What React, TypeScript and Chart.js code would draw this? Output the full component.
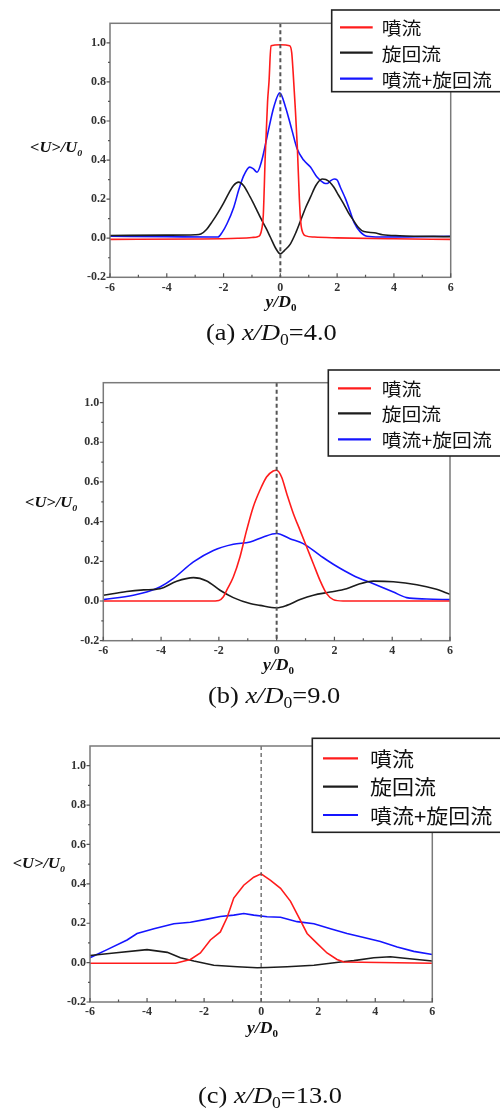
import React, { useEffect, useRef } from "react";
import { Chart, registerables } from "chart.js";

Chart.register(...registerables);

// ---------- shared labels / ticks ----------
const seriesLabels = ["噴流", "旋回流", "噴流+旋回流"];
const seriesColors = ["#ff1c1c", "#1c1c1c", "#1515ff"];
const xTickValues = [-6, -4, -2, 0, 2, 4, 6];
const yTickValues = [-0.2, 0, 0.2, 0.4, 0.6, 0.8, 1.0];
const xMinorValues = [-5, -3, -1, 1, 3, 5];
const yMinorValues = [-0.1, 0.1, 0.3, 0.5, 0.7, 0.9];
const panelLetters = ["a", "b", "c"];
const panelPositions = ["4.0", "9.0", "13.0"];

// ---------- panel (a) x/D0 = 4.0 ----------
const aJetX = [-6, -3, -1.5, -1, -0.8, -0.72, -0.65, -0.6, -0.53, -0.45, -0.4, -0.33, 0, 0.33, 0.4, 0.45, 0.52, 0.6, 0.67, 0.72, 0.8, 0.9, 1.2, 2, 4, 6];
const aJetY = [-0.006, -0.004, 0, 0.004, 0.008, 0.015, 0.05, 0.12, 0.43, 0.7, 0.8, 0.985, 0.99, 0.985, 0.95, 0.85, 0.68, 0.46, 0.2, 0.08, 0.025, 0.012, 0.006, 0.002, -0.003, -0.006];
const aSwirlX = [-6, -4, -3, -2.8, -2.6, -2.4, -2.2, -2, -1.8, -1.65, -1.47, -1.3, -1.06, -0.85, -0.7, -0.5, -0.35, -0.15, 0, 0.15, 0.35, 0.55, 0.7, 0.9, 1.06, 1.25, 1.47, 1.6, 1.75, 1.88, 2.05, 2.23, 2.4, 2.58, 2.75, 2.94, 3.3, 3.6, 4.2, 6];
const aSwirlY = [0.014, 0.016, 0.018, 0.022, 0.045, 0.085, 0.13, 0.18, 0.235, 0.27, 0.287, 0.27, 0.21, 0.15, 0.105, 0.05, 0.005, -0.055, -0.08, -0.062, -0.03, 0.03, 0.085, 0.16, 0.21, 0.27, 0.303, 0.3, 0.285, 0.262, 0.22, 0.176, 0.13, 0.09, 0.055, 0.034, 0.028, 0.018, 0.013, 0.008];
const aBothX = [-6, -4, -2.5, -2.2, -2.05, -1.88, -1.64, -1.47, -1.29, -1.08, -0.95, -0.82, -0.65, -0.47, -0.23, -0.02, 0.18, 0.41, 0.59, 0.82, 1.06, 1.29, 1.53, 1.65, 1.75, 1.9, 2.0, 2.11, 2.3, 2.45, 2.6, 2.8, 3.05, 3.5, 4.5, 6];
const aBothY = [0.01, 0.008, 0.006, 0.006, 0.03, 0.074, 0.159, 0.245, 0.32, 0.364, 0.355, 0.338, 0.4, 0.518, 0.672, 0.744, 0.672, 0.552, 0.458, 0.4, 0.364, 0.313, 0.283, 0.28, 0.292, 0.303, 0.298, 0.262, 0.2, 0.14, 0.08, 0.035, 0.01, 0.006, 0.007, 0.01];

// ---------- panel (b) x/D0 = 9.0 ----------
const bJetX = [-6, -2.3, -2, -1.85, -1.73, -1.5, -1.27, -1.04, -0.81, -0.58, -0.35, -0.12, 0, 0.17, 0.35, 0.58, 0.81, 1.04, 1.27, 1.5, 1.73, 1.96, 2.3, 6];
const bJetY = [0, 0, 0.003, 0.02, 0.054, 0.121, 0.222, 0.356, 0.474, 0.558, 0.625, 0.655, 0.659, 0.625, 0.541, 0.44, 0.356, 0.272, 0.188, 0.104, 0.037, 0.007, 0, 0];
const bSwirlX = [-6, -5.19, -4.6, -4.04, -3.46, -2.88, -2.42, -1.96, -1.5, -0.92, -0.58, 0, 0.35, 0.81, 1.27, 1.85, 2.42, 2.88, 3.35, 4.04, 4.85, 5.5, 6];
const bSwirlY = [0.029, 0.048, 0.056, 0.062, 0.1, 0.118, 0.101, 0.054, 0.017, -0.013, -0.022, -0.034, -0.022, 0.007, 0.029, 0.045, 0.062, 0.087, 0.1, 0.097, 0.082, 0.06, 0.034];
const bBothX = [-6, -4.96, -4.5, -4.04, -3.58, -2.88, -2.19, -1.5, -0.92, -0.46, 0, 0.46, 0.92, 1.5, 1.96, 2.65, 3.35, 4.04, 4.5, 5.19, 6];
const bBothY = [0.007, 0.029, 0.045, 0.071, 0.113, 0.197, 0.255, 0.286, 0.297, 0.323, 0.34, 0.314, 0.289, 0.23, 0.185, 0.129, 0.087, 0.045, 0.017, 0.01, 0.007];

// ---------- panel (c) x/D0 = 13.0 ----------
const cJetX = [-6, -3, -2.83, -2.48, -2.13, -1.78, -1.43, -1.19, -0.96, -0.61, -0.26, 0, 0.33, 0.68, 1.03, 1.38, 1.61, 1.96, 2.31, 2.66, 2.9, 6];
const cJetY = [-0.003, -0.003, 0.003, 0.016, 0.049, 0.115, 0.156, 0.23, 0.328, 0.393, 0.434, 0.451, 0.418, 0.377, 0.311, 0.213, 0.148, 0.098, 0.049, 0.016, 0.003, -0.003];
const cSwirlX = [-6, -5.16, -4, -3.29, -2.83, -2.36, -1.66, -0.84, -0.14, 0.21, 0.91, 1.85, 2.78, 3.25, 3.95, 4.53, 5.12, 6];
const cSwirlY = [0.036, 0.049, 0.066, 0.052, 0.025, 0.008, -0.013, -0.021, -0.026, -0.025, -0.021, -0.013, 0.003, 0.01, 0.025, 0.03, 0.021, 0.008];
const cBothX = [-6, -5.4, -4.7, -4.35, -3.76, -3.06, -2.48, -1.89, -1.43, -0.96, -0.61, -0.26, 0.21, 0.68, 1.26, 1.85, 2.43, 3.01, 3.6, 4.18, 4.77, 5.35, 6];
const cBothY = [0.025, 0.066, 0.115, 0.148, 0.172, 0.197, 0.205, 0.221, 0.234, 0.241, 0.249, 0.241, 0.233, 0.23, 0.208, 0.197, 0.172, 0.148, 0.128, 0.107, 0.079, 0.057, 0.041];

// ---------- layout (styles, not data) ----------
type Layout = {
  top: number; height: number;
  left: number; right: number; plotTop: number; plotBottom: number;
  legend: { x: number; y: number; h: number; l1: number; l2: number; tx: number; rows: number[]; font: number };
  yTitle: { x: number; y: number };
  xTitle: { cx: number; y: number };
  caption: { x: number; y: number };
  dashWidth: number;
  smooth: boolean;
};

const layouts: Layout[] = [
  {
    top: 0, height: 355, left: 110, right: 450.7, plotTop: 23.3, plotBottom: 277.3,
    legend: { x: 331.7, y: 10, h: 81.7, l1: 340, l2: 372.7, tx: 381.7, rows: [27.3, 52.7, 78.7], font: 18 },
    yTitle: { x: 30, y: 152 }, xTitle: { cx: 281, y: 307 }, caption: { x: 206, y: 340 },
    dashWidth: 2, smooth: true,
  },
  {
    top: 360, height: 355, left: 103.3, right: 450, plotTop: 22.7, plotBottom: 280.7,
    legend: { x: 328.3, y: 10, h: 86, l1: 338, l2: 371, tx: 381.7, rows: [28.3, 53.3, 79.3], font: 18 },
    yTitle: { x: 25, y: 147 }, xTitle: { cx: 278.5, y: 310 }, caption: { x: 208, y: 343.4 },
    dashWidth: 2, smooth: true,
  },
  {
    top: 720, height: 391, left: 90, right: 432.3, plotTop: 26, plotBottom: 282,
    legend: { x: 312.3, y: 18.3, h: 94, l1: 323, l2: 358, tx: 370, rows: [38.3, 66.7, 95], font: 20 },
    yTitle: { x: 12.7, y: 148 }, xTitle: { cx: 262.5, y: 313 }, caption: { x: 198, y: 383 },
    dashWidth: 1.2, smooth: false,
  },
];

const panelSeries = [
  [[aJetX, aJetY], [aSwirlX, aSwirlY], [aBothX, aBothY]],
  [[bJetX, bJetY], [bSwirlX, bSwirlY], [bBothX, bBothY]],
  [[cJetX, cJetY], [cSwirlX, cSwirlY], [cBothX, cBothY]],
];

const SERIF = "'Liberation Serif', 'Times New Roman', serif";
const CJK = "'Noto Sans CJK JP', 'Noto Sans CJK SC', sans-serif";
const STRETCH = 1.1;

type Run = { t: string; font: string; dy?: number };

function drawRuns(ctx: CanvasRenderingContext2D, runs: Run[], x: number, y: number, align: "left" | "center", sx: number) {
  ctx.save();
  ctx.textBaseline = "alphabetic";
  ctx.textAlign = "left";
  let w = 0;
  runs.forEach((r) => { ctx.font = r.font; w += ctx.measureText(r.t).width; });
  ctx.translate(x, y);
  ctx.scale(sx, 1);
  let cx = align === "center" ? -w / 2 : 0;
  ctx.fillStyle = "#111";
  runs.forEach((r) => {
    ctx.font = r.font;
    ctx.fillText(r.t, cx, r.dy || 0);
    cx += ctx.measureText(r.t).width;
  });
  ctx.restore();
}

function makeDecorPlugin(L: Layout, idx: number) {
  return {
    id: "decor" + idx,
    afterDatasetsDraw(chart: any) {
      const ctx: CanvasRenderingContext2D = chart.ctx;
      const xs = chart.scales.x;
      const ys = chart.scales.y;
      const a = chart.chartArea;
      ctx.save();
      // dashed centre line
      const x0 = xs.getPixelForValue(0);
      ctx.strokeStyle = "#555";
      ctx.lineWidth = L.dashWidth;
      ctx.setLineDash([4, 3]);
      ctx.beginPath();
      ctx.moveTo(x0, a.top);
      ctx.lineTo(x0, a.bottom);
      ctx.stroke();
      ctx.setLineDash([]);
      // frame
      ctx.strokeStyle = "#7a7a7a";
      ctx.lineWidth = 1.5;
      ctx.strokeRect(a.left, a.top, a.right - a.left, a.bottom - a.top);
      // ticks
      ctx.strokeStyle = "#555";
      ctx.lineWidth = 1.2;
      ctx.beginPath();
      xTickValues.forEach((v) => { const p = xs.getPixelForValue(v); ctx.moveTo(p, a.bottom); ctx.lineTo(p, a.bottom - 4); });
      xMinorValues.forEach((v) => { const p = xs.getPixelForValue(v); ctx.moveTo(p, a.bottom); ctx.lineTo(p, a.bottom - 2.5); });
      yTickValues.forEach((v) => { const p = ys.getPixelForValue(v); ctx.moveTo(a.left, p); ctx.lineTo(a.left - 3.5, p); });
      yMinorValues.forEach((v) => { const p = ys.getPixelForValue(v); ctx.moveTo(a.left, p); ctx.lineTo(a.left - 2, p); });
      ctx.stroke();
      ctx.restore();
    },
    afterDraw(chart: any) {
      const ctx: CanvasRenderingContext2D = chart.ctx;
      ctx.save();
      // legend
      const lg = L.legend;
      ctx.fillStyle = "#fff";
      ctx.fillRect(lg.x, lg.y, 520 - lg.x, lg.h);
      ctx.strokeStyle = "#222";
      ctx.lineWidth = 1.6;
      ctx.strokeRect(lg.x, lg.y, 520 - lg.x, lg.h);
      chart.data.datasets.forEach((ds: any, i: number) => {
        const ry = lg.rows[i];
        ctx.strokeStyle = ds.borderColor;
        ctx.lineWidth = 2.2;
        ctx.beginPath();
        ctx.moveTo(lg.l1, ry);
        ctx.lineTo(lg.l2, ry);
        ctx.stroke();
        ctx.save();
        ctx.translate(lg.tx, ry);
        ctx.scale(STRETCH, 1);
        ctx.fillStyle = "#111";
        ctx.font = `${lg.font}px ${CJK}`;
        ctx.textBaseline = "middle";
        ctx.textAlign = "left";
        ctx.fillText(ds.label, 0, 1);
        ctx.restore();
      });
      // y title  <U>/U0
      drawRuns(ctx, [
        { t: "<U>/U", font: `italic bold 15px ${SERIF}` },
        { t: "0", font: `italic bold 9px ${SERIF}`, dy: 4 },
      ], L.yTitle.x, L.yTitle.y, "left", STRETCH);
      // x title  y/D0
      drawRuns(ctx, [
        { t: "y/D", font: `italic bold 16px ${SERIF}` },
        { t: "0", font: `bold 10px ${SERIF}`, dy: 4 },
      ], L.xTitle.cx, L.xTitle.y, "center", STRETCH);
      // caption
      drawRuns(ctx, [
        { t: `(${panelLetters[idx]}) `, font: `24px ${SERIF}` },
        { t: "x/D", font: `italic 24px ${SERIF}` },
        { t: "0", font: `16px ${SERIF}`, dy: 5 },
        { t: `=${panelPositions[idx]}`, font: `24px ${SERIF}` },
      ], L.caption.x, L.caption.y, "left", STRETCH);
      ctx.restore();
    },
  };
}

function Panel({ idx }: { idx: number }) {
  const ref = useRef<HTMLCanvasElement | null>(null);
  const L = layouts[idx];
  useEffect(() => {
    if (!ref.current) return;
    const tickFont = { family: SERIF, weight: "bold" as const, size: 12 };
    const chart = new Chart(ref.current, {
      type: "line",
      data: {
        datasets: panelSeries[idx].map(([xs, ys], i) => ({
          label: seriesLabels[i],
          data: xs.map((x, j) => ({ x, y: ys[j] })),
          borderColor: seriesColors[i],
          backgroundColor: seriesColors[i],
          borderWidth: 1.6,
          pointRadius: 0,
          fill: false,
          tension: 0,
          cubicInterpolationMode: L.smooth ? ("monotone" as const) : ("default" as const),
        })),
      },
      options: {
        animation: false,
        responsive: false,
        devicePixelRatio: 1,
        layout: {
          padding: {
            left: L.left - 40,
            right: 500 - L.right,
            top: L.plotTop,
            bottom: L.height - L.plotBottom - 30,
          },
        },
        plugins: { legend: { display: false }, tooltip: { enabled: false } },
        scales: {
          x: {
            type: "linear",
            min: -6,
            max: 6,
            grid: { display: false, drawTicks: false },
            border: { display: false },
            afterBuildTicks: (s: any) => { s.ticks = xTickValues.map((v) => ({ value: v })); },
            afterFit: (s: any) => { s.height = 30; },
            ticks: {
              font: tickFont,
              color: "#333",
              padding: 3,
              maxRotation: 0,
              autoSkip: false,
              callback: (v: any) => String(v),
            },
          },
          y: {
            type: "linear",
            min: -0.2,
            max: 1.1,
            grid: { display: false, drawTicks: false },
            border: { display: false },
            afterBuildTicks: (s: any) => { s.ticks = yTickValues.map((v) => ({ value: v })); },
            afterFit: (s: any) => { s.width = 40; },
            ticks: {
              font: tickFont,
              color: "#333",
              padding: 4,
              autoSkip: false,
              callback: (v: any) => Number(v).toFixed(1),
            },
          },
        },
      } as any,
      plugins: [makeDecorPlugin(L, idx)],
    });
    return () => chart.destroy();
  }, [idx]);
  return (
    <canvas
      ref={ref}
      width={500}
      height={L.height}
      style={{ position: "absolute", left: 0, top: L.top, width: 500, height: L.height }}
    />
  );
}

export default function App() {
  return (
    <div style={{ position: "relative", width: 500, height: 1111, background: "#fff", overflow: "hidden" }}>
      <style>{"body{margin:0;background:#fff}"}</style>
      <Panel idx={0} />
      <Panel idx={1} />
      <Panel idx={2} />
    </div>
  );
}
